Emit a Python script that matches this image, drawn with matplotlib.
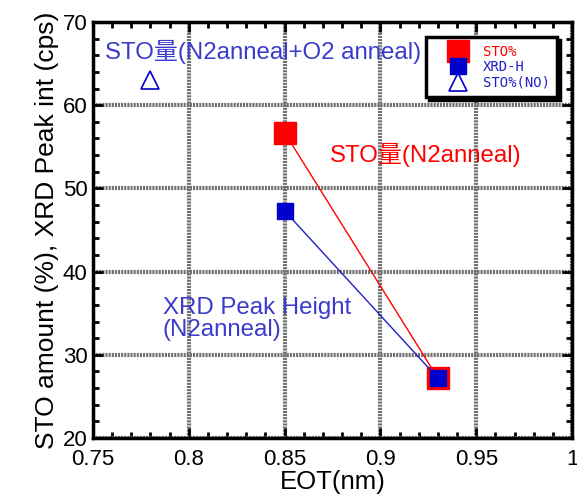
import matplotlib
matplotlib.use("Agg")
import matplotlib.pyplot as plt
from matplotlib.ticker import MultipleLocator

plt.rcParams['font.family'] = ['Liberation Sans', 'Noto Sans CJK JP', 'DejaVu Sans']

eot = [0.85, 0.93]
sto_pct = [56.7, 27.2]
xrd_h = [47.3, 27.2]
eot_no = [0.78]
sto_no = [63.0]

fig = plt.figure(figsize=(5.77, 4.97), dpi=100)
ax = fig.add_axes([93/577, 1-438/497, (572-93)/577, (438-22)/497])

ax.plot(eot, sto_pct, color='red', lw=1, marker='s', ms=16, mfc='red', mec='red', label='STO%', zorder=3)
ax.plot(eot, xrd_h, color='#2020c0', lw=1, marker='s', ms=12, mfc='#0000cc', mec='#0000cc', label='XRD-H', zorder=4)
ax.plot(eot_no, sto_no, ls='none', marker='^', ms=13, mfc='white', mec='#0000cc', mew=1.2, label='STO%(NO)', zorder=4)

ax.set_xlim(0.75, 1.0)
ax.set_ylim(20, 70)
ax.xaxis.set_minor_locator(MultipleLocator(0.01))
ax.yaxis.set_major_locator(MultipleLocator(10))
ax.yaxis.set_minor_locator(MultipleLocator(2))
ax.set_xticks([0.75, 0.8, 0.85, 0.9, 0.95, 1.0])
ax.set_xticklabels(['0.75', '0.8', '0.85', '0.9', '0.95', '1'])
ax.grid(True, which='major', color='#707070', lw=3, ls=(0, (0.5, 0.25)))
ax.set_axisbelow(True)
for s in ax.spines.values():
    s.set_linewidth(2.5)
ax.tick_params(which='both', direction='in', top=True, right=True, labelsize=16, width=2)
ax.tick_params(which='major', length=7)
ax.tick_params(which='minor', length=4)
ax.tick_params(axis='x', which='major', pad=8)
ax.tick_params(axis='y', which='major', pad=4)
ax.set_xlabel('EOT(nm)', fontsize=18.5, labelpad=0)
ax.set_ylabel('STO amount (%), XRD Peak int (cps)', fontsize=19, labelpad=3)

ax.text(0.7563, 66.4, 'STO量(N2anneal+O2 anneal)', color='#3a3acc', fontsize=17.3, va='center')
ax.text(0.8737, 54.0, 'STO量(N2anneal)', color='red', fontsize=17.3, va='center')
ax.text(0.7865, 34.3, 'XRD Peak Height\n(N2anneal)', color='#3a3acc', fontsize=17.3, va='center', linespacing=1.0)

leg = ax.legend(loc='upper right', bbox_to_anchor=(0.969, 0.964), frameon=True, fancybox=False,
                shadow={'color': 'black', 'alpha': 1}, edgecolor='black',
                prop={'family': 'DejaVu Sans Mono', 'size': 10}, handlelength=3.4,
                labelspacing=0.1, borderpad=0.55, markerscale=1.0, handletextpad=0.1,
                borderaxespad=0)
leg.get_frame().set_linewidth(2.5)
for t, c in zip(leg.get_texts(), ['red', '#2020c0', '#2020c0']):
    t.set_color(c)
for h in leg.legend_handles:
    h.set_linestyle('none')

fig.savefig('out.png', dpi=100)
